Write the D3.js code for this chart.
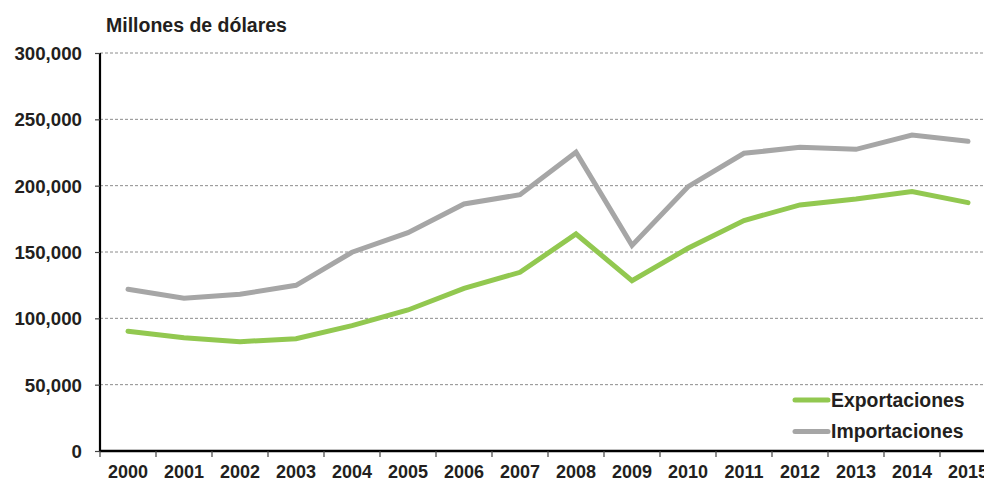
<!DOCTYPE html>
<html><head><meta charset="utf-8">
<script src="https://cdn.jsdelivr.net/npm/d3@7"></script>
<style>
body{margin:0;background:#fff;}
text{font-family:"Liberation Sans",Arial,sans-serif;font-weight:bold;fill:#231f20;}
</style></head>
<body><svg id="c" width="984" height="482"></svg>
<script>
const years = ["2000","2001","2002","2003","2004","2005","2006","2007","2008","2009","2010","2011","2012","2013","2014","2015"];
const exportaciones = [90200,85400,82400,84600,94500,106300,122600,134700,163600,128400,152800,173700,185500,190000,195600,187200];
const importaciones = [121900,115100,118100,124900,149800,164600,186200,193200,225200,155000,199200,224400,228900,227400,238200,233400];
const yTicks = [0,50000,100000,150000,200000,250000,300000];
const seriesNames = ["Exportaciones","Importaciones"];
const seriesColors = ["#92c850","#a6a6a6"];

const svg = d3.select("#c");
const x = d3.scaleBand().domain(years).range([100,996]);
const y = d3.scaleLinear().domain([0,300000]).range([451,53]);

// gridlines
svg.append("g").selectAll("line").data(yTicks.filter(d=>d>0)).join("line")
  .attr("x1",100).attr("x2",984).attr("y1",d=>y(d)).attr("y2",d=>y(d))
  .attr("stroke","#8c8c8c").attr("stroke-width",1).attr("stroke-dasharray","3,2");

// y axis
const fmt = d3.format(",");
const yAxis = svg.append("g").attr("transform","translate(100,0)")
  .call(d3.axisLeft(y).tickValues(yTicks).tickFormat(fmt).tickSize(5).tickPadding(13));
yAxis.select(".domain").attr("stroke","#000").attr("stroke-width",2.2).attr("d","M0,53V451");
yAxis.selectAll(".tick line").attr("stroke","#444").attr("stroke-width",1.2);
yAxis.selectAll(".tick text").attr("font-size","18.7px").attr("fill","#231f20").attr("font-family","Liberation Sans, Arial, sans-serif").attr("font-weight","bold").attr("dy","0.34em");

// x axis
const xAxis = svg.append("g").attr("transform","translate(0,451)")
  .call(d3.axisBottom(x).tickSize(0));
xAxis.select(".domain").attr("stroke","#000").attr("stroke-width",2.5).attr("d","M100,0H984");
xAxis.selectAll(".tick text").attr("font-size","18px").attr("fill","#231f20").attr("font-family","Liberation Sans, Arial, sans-serif").attr("font-weight","bold").attr("y",27).attr("dy","0");
// boundary ticks
svg.append("g").selectAll("line").data(years).join("line")
  .attr("x1",d=>x(d)).attr("x2",d=>x(d)).attr("y1",451).attr("y2",457)
  .attr("stroke","#444").attr("stroke-width",1.2);

// lines
const line = d3.line().x((d,i)=>x(years[i])+x.bandwidth()/2).y(d=>y(d));
[exportaciones, importaciones].forEach((s,i)=>{
  svg.append("path").datum(s).attr("d",line).attr("fill","none")
    .attr("stroke",seriesColors[i]).attr("stroke-width",5)
    .attr("stroke-linecap","round").attr("stroke-linejoin","miter");
});

// title
svg.append("text").attr("x",106).attr("y",32).attr("font-size","19.5px").text("Millones de dólares");

// legend
const lg = svg.append("g");
seriesNames.forEach((n,i)=>{
  const yy = 400 + i*31.5;
  lg.append("line").attr("x1",795).attr("x2",828).attr("y1",yy).attr("y2",yy)
    .attr("stroke",seriesColors[i]).attr("stroke-width",5).attr("stroke-linecap","round");
  lg.append("text").attr("x",831).attr("y",yy).attr("dy","0.36em").attr("font-size","19.4px").text(n);
});
</script></body></html>
